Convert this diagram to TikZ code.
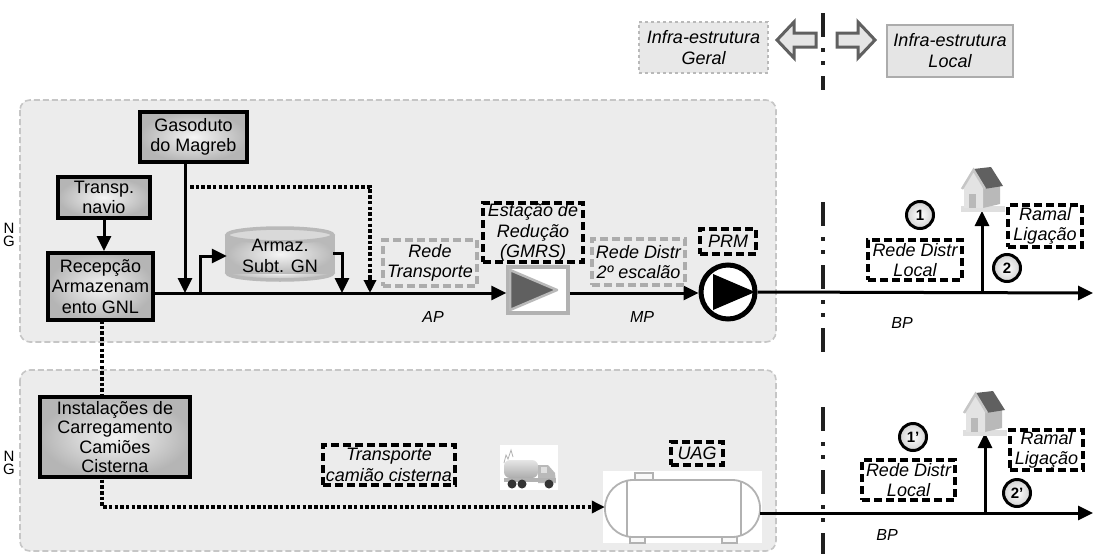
\documentclass[tikz,border=0pt]{standalone}
\usepackage{fontspec}
\setmainfont{Liberation Sans}
\usetikzlibrary{arrows.meta,calc,shapes.geometric}
\begin{document}
\begin{tikzpicture}[x=1pt,y=-1pt]
\tikzset{
  txt/.style={font=\fontsize{18}{20.5}\selectfont},
  solidbox/.style={draw=black, line width=4pt, inner color=gray!8, outer color=gray!58, align=center, inner sep=0pt, txt},
  blkdash/.style={draw=black, line width=3.2pt, dash pattern=on 8pt off 4pt, align=center, inner sep=0pt, font=\fontsize{18}{20.5}\selectfont\itshape},
  gradash/.style={blkdash, draw=gray!65},
  flow/.style={line width=3pt, -{Triangle[length=15pt,width=14pt]}},
  dotflow/.style={line width=3.6pt, dash pattern=on 3.5pt off 2.2pt, -{Triangle[length=13pt,width=12pt]}},
  region/.style={draw=gray!45, fill=gray!15, line width=1.6pt, dash pattern=on 6pt off 3pt, rounded corners=10pt},
  numc/.style={circle, draw=black, line width=3pt, inner color=white, outer color=gray!35, minimum size=27pt, inner sep=0pt, font=\fontsize{15}{15}\selectfont\bfseries},
  lbl/.style={font=\fontsize{16}{16}\selectfont\itshape},
  nglbl/.style={font=\fontsize{15}{15}\selectfont, inner sep=0pt},
  blockarr/.style={draw=gray!75!black, fill=gray!20, line width=3pt, line join=miter},
  dashdot/.style={line width=3.5pt, gray!25!black, dash pattern=on 24pt off 11pt on 4pt off 9pt on 4pt off 11pt},
  legendbox/.style={align=center, font=\fontsize{18}{21}\selectfont\itshape, inner sep=0pt}
}
\useasboundingbox (0,0) rectangle (1094,554);

% regions
\draw[region] (20,100) rectangle (776,342);
\draw[region] (20,370) rectangle (776,551);

% legend
\node[legendbox, draw=gray!55, dashed, fill=gray!18, line width=1.6pt, minimum width=129pt, minimum height=51pt] (geral) at (703.5,47.5) {Infra-estrutura\\Geral};
\node[legendbox, draw=gray!65, fill=gray!20, line width=2pt, minimum width=126pt, minimum height=52pt] (local) at (950,51) {Infra-estrutura\\Local};
\draw[blockarr] (777,40) -- (794,22) -- (794,33) -- (816,33) -- (816,47) -- (794,47) -- (794,58) -- cycle;
\draw[blockarr] (875,40) -- (858,22) -- (858,33) -- (837,33) -- (837,47) -- (858,47) -- (858,58) -- cycle;

% dash-dot boundary
\draw[dashdot] (823,13) -- (823,90);
\draw[dashdot] (823,202) -- (823,357);
\draw[dashdot] (823,407) -- (823,554);

% NG labels
\node[nglbl] (ng1n) at (9,228) {N};
\node[nglbl] (ng1g) at (9,241) {G};
\node[nglbl] (ng2n) at (9,456) {N};
\node[nglbl] (ng2g) at (9,469) {G};

% junction coordinates
\coordinate (jg) at (185,293);
\coordinate (jb) at (200,293);
\coordinate (jt) at (342,293);
\coordinate (jd) at (370,293);
\coordinate (dstart) at (190,187);
\coordinate (dcorner) at (102,507);
\coordinate (end1) at (1093,293);
\coordinate (end2) at (1093,513);
\coordinate (jh1) at (982,293);
\coordinate (h1) at (982,211);
\coordinate (jh2) at (985,513);
\coordinate (h2) at (985,433);

% storage tank (cylinder)
\filldraw[draw=gray!55, line width=3.5pt, inner color=gray!8, outer color=gray!55] (280,273) ellipse [x radius=53pt, y radius=7pt];
\fill[inner color=gray!8, outer color=gray!55] (227,235) rectangle (333,273);
\draw[gray!55, line width=3.5pt] (227,235) -- (227,273) (333,235) -- (333,273);
\filldraw[draw=gray!55, line width=3.5pt, fill=gray!30] (280,235) ellipse [x radius=53pt, y radius=7pt];
\node[txt, align=center, inner sep=0pt, minimum width=106pt, minimum height=38pt] (tank) at (280,256) {Armaz.\\Subt. GN};

% UAG tank
\fill[white] (603,471) rectangle (762,543);
\node[minimum width=155pt, minimum height=57pt, inner sep=0pt] (uagtank) at (682.5,508.5) {};
\draw[gray!60, line width=1.8pt, fill=gray!5] (635,473) rectangle (653,481);
\draw[gray!60, line width=1.8pt, fill=gray!5] (630,536) rectangle (645,543);
\draw[gray!60, line width=1.8pt, fill=gray!5] (722,536) rectangle (737,543);
\draw[gray!60, line width=1.8pt, fill=white, rounded corners=28pt] (605,480) rectangle (760,537);
\draw[gray!60, line width=1.2pt] (627,481) -- (627,536) (741,481) -- (741,536);

% dotted flows
\draw[dotflow, -] (dstart) -- (dstart -| jd) -- ($(jd)+(0,-14)$);
\draw[dotflow] ($(jd)+(0,-16)$) -- (jd);
\draw[dotflow] (102,320) -- (dcorner) -- (uagtank.west |- dcorner);

% solid boxes
\node[solidbox, minimum width=107pt, minimum height=50pt] (gas) at (193.5,137) {Gasoduto\\do Magreb};
\node[solidbox, minimum width=92pt, minimum height=41pt] (navio) at (104,197.5) {Transp.\\navio};
\node[solidbox, minimum width=105pt, minimum height=67pt] (recep) at (100.5,286.5) {Recepção\\Armazenam\\ento GNL};
\node[solidbox, minimum width=150pt, minimum height=80pt, font=\fontsize{18}{19.5}\selectfont] (insta) at (115,437) {Instalações de\\Carregamento\\Camiões\\Cisterna};

% GMRS
\node[draw=gray!60, line width=3.5pt, fill=white, minimum width=60pt, minimum height=46pt, inner sep=0pt] (gmrs) at (538,290) {};
\filldraw[fill=gray!75!black, draw=gray!55, line width=2.5pt, line join=round] (510,270) -- (557,290) -- (510,310) -- cycle;

% PRM
\node[circle, draw=black, line width=5pt, fill=white, minimum size=54pt, inner sep=0pt] (prm) at (728,292) {};
\fill[black] (713,274) -- (755,292) -- (713,310) -- cycle;

% solid flows
\draw[flow] (recep.east |- jg) -- (gmrs.west |- jg);
\draw[flow] (gas.south -| jg) -- (jg);
\draw[flow] (navio.south) -- (navio.south |- recep.north);
\draw[flow] (jb) -- (jb |- tank.west) -- (tank.west);
\draw[flow] (tank.east |- 0,253) -- (jt |- 0,253) -- (jt);
\draw[flow] (gmrs.east |- jg) -- (prm.west |- jg);
\draw[flow] (prm.east) -- (end1);
\draw[flow] (jh1) -- (h1);
\draw[flow] (uagtank.east |- end2) -- (end2);
\draw[flow] (jh2) -- (h2);

% dashed labels
\node[gradash, minimum width=94pt, minimum height=46pt] (rt) at (430,263) {Rede\\Transporte};
\node[blkdash, minimum width=100pt, minimum height=59pt] (est) at (533,232.5) {Estação de\\Redução\\(GMRS)};
\node[gradash, minimum width=93pt, minimum height=46pt] (rd2) at (638.5,262) {Rede Distr\\2º escalão};
\node[blkdash, minimum width=56pt, minimum height=25pt] (prmlbl) at (728,241.5) {PRM};
\node[blkdash, minimum width=94pt, minimum height=40pt] (rdl1) at (915,260) {Rede Distr\\Local};
\node[blkdash, minimum width=74pt, minimum height=42pt] (ram1) at (1045,226) {Ramal\\Ligação};
\node[blkdash, minimum width=132pt, minimum height=40pt] (tcc) at (389,465) {Transporte\\camião cisterna};
\node[blkdash, minimum width=52pt, minimum height=23pt] (uag) at (697,453.5) {UAG};
\node[blkdash, minimum width=93pt, minimum height=40pt] (rdl2) at (908.5,480) {Rede Distr\\Local};
\node[blkdash, minimum width=73pt, minimum height=40pt] (ram2) at (1046.5,450) {Ramal\\Ligação};

% pressure labels
\node[lbl] (ap) at (433,317) {AP};
\node[lbl] (mp) at (642,317) {MP};
\node[lbl] (bp1) at (902,323) {BP};
\node[lbl] (bp2) at (887,535) {BP};

% numbered circles
\node[numc] (c1) at (920,215) {1};
\node[numc] (c2) at (1007,268) {2};
\node[numc] (c1b) at (913,437) {1’};
\node[numc] (c2b) at (1017,493) {2’};

% houses
\foreach \hx/\hy in {961/165, 963/389} {
\begin{scope}[shift={(\hx,\hy)}]
 \fill[gray!25] (0,41) rectangle (44,47);
 \fill[gray!55] (22,22) -- (39,20) -- (39,39) -- (22,43) -- cycle;
 \fill[gray!22] (3,22) -- (12.5,7) -- (22,22) -- (22,43) -- (3,43) -- cycle;
 \fill[gray!75!black] (12.5,4) -- (30,2) -- (42,21) -- (23,24) -- cycle;
 \draw[gray!45, line width=2.5pt] (1,24) -- (12.5,5) -- (24,24);
 \fill[gray!55] (8,29) rectangle (15,43);
\end{scope}
}

% truck
\begin{scope}[shift={(500,445)}]
 \fill[white] (0,0) rectangle (58,45);
 \draw[gray!60, line width=0.8pt] (4,18) -- (6,10) -- (8,14) -- (11,5) -- (13,12);
 \shade[top color=gray!20, bottom color=gray!65, rounded corners=6pt] (4,15) rectangle (38,33);
 \fill[gray!55] (38,20) -- (48,20) -- (55,28) -- (56,38) -- (38,38) -- cycle;
 \fill[gray!25] (41,22) rectangle (47,28);
 \fill[gray!60] (4,33) rectangle (56,37);
 \fill[black!80] (12,39) circle (4.5pt) (22,39) circle (4.5pt) (49,39) circle (4.5pt);
\end{scope}
\end{tikzpicture}
\end{document}
